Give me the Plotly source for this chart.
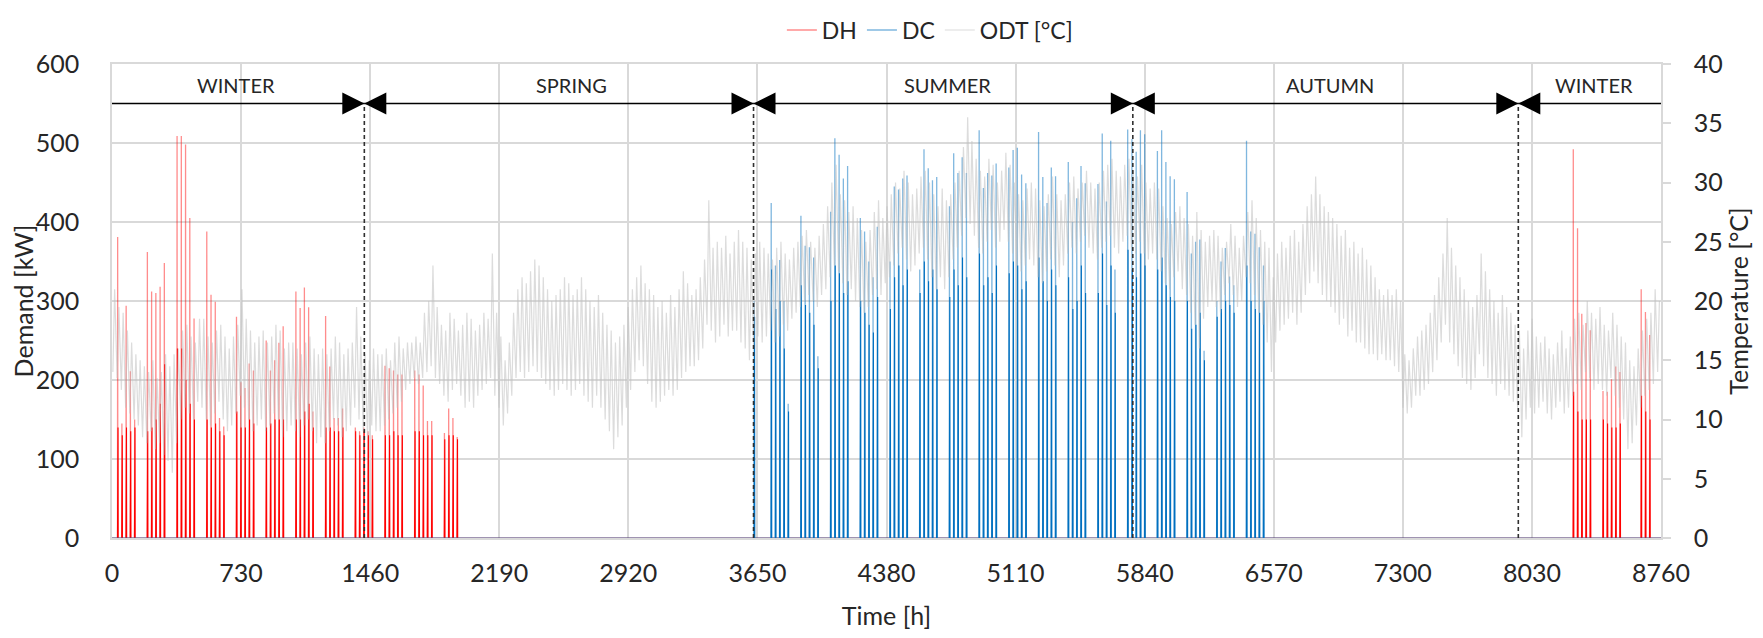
import plotly.graph_objects as go

# ---------------- data ----------------
# District heating (DH): working days (day index of the year), daily peak and daily base load [kW]
DH_DAYS = [1, 2, 3, 4, 5,
           8, 9, 10, 11, 12,
           15, 16, 17, 18, 19,
           22, 23, 24, 25, 26,
           29, 30, 31, 32, 33,
           36, 37, 38, 39, 40,
           43, 44, 45, 46, 47,
           50, 51, 52, 53, 54,
           57, 58, 59, 60, 61,
           64, 65, 66, 67, 68,
           71, 72, 73, 74, 75,
           78, 79, 80, 81,
           344, 345, 346, 347, 348,
           351, 352, 353, 354, 355,
           360, 361, 362]
DH_PEAK = [381, 145, 294, 211, 150,
           362, 312, 310, 318, 348,
           509, 509, 498, 405, 278,
           388, 308, 299, 152, 141,
           280, 197, 190, 221, 212,
           250, 212, 225, 247, 268,
           312, 291, 317, 292, 160,
           281, 217, 152, 152, 164,
           140, 135, 140, 135, 130,
           218, 215, 212, 207, 207,
           212, 207, 193, 148, 148,
           133, 164, 152, 128,
           492, 392, 284, 272, 263,
           186, 185, 201, 217, 210,
           315, 286, 257]
DH_BASE = [140, 130, 140, 135, 140,
           135, 140, 150, 170, 220,
           240, 240, 200, 170, 150,
           150, 140, 145, 135, 130,
           160, 140, 140, 150, 145,
           140, 145, 150, 150, 150,
           150, 150, 160, 170, 140,
           140, 140, 135, 135, 140,
           135, 130, 135, 130, 125,
           130, 130, 135, 130, 130,
           135, 135, 130, 130, 130,
           125, 130, 130, 125,
           185, 160, 150, 150, 150,
           150, 145, 140, 140, 145,
           180, 160, 150]

# District cooling (DC)
DC_DAYS = [151,
           155, 156, 157, 158, 159,
           162, 163, 164, 165, 166,
           169, 170, 171, 172, 173,
           176, 177, 178, 179, 180,
           183, 184, 185, 186, 187,
           190, 191, 192, 193, 194,
           197, 198, 199, 200, 201,
           204, 205, 206, 207, 208,
           211, 212, 213, 214, 215,
           218, 219, 220, 221, 222,
           225, 226, 227, 228, 229,
           232, 233, 234, 235, 236,
           239, 240, 241, 242, 243,
           246, 247, 248, 249, 250,
           253, 254, 255, 256, 257,
           260, 261, 262, 263, 264,
           267, 268, 269, 270, 271]
DC_PEAK = [300,
           424, 345, 352, 300, 170,
           408, 370, 368, 355, 230,
           413, 506, 485, 455, 471,
           405, 388, 350, 330, 394,
           350, 445, 441, 455, 459,
           340, 492, 468, 453, 457,
           420, 487, 462, 482, 462,
           516, 443, 462, 459, 474,
           469, 491, 494, 460, 449,
           514, 457, 424, 469, 458,
           476, 400, 430, 471, 449,
           448, 512, 426, 503, 340,
           517, 505, 489, 516, 511,
           490, 516, 476, 458, 454,
           438, 360, 375, 378, 237,
           300, 350, 367, 331, 320,
           503, 388, 385, 368, 345]
DC_BASE = [280,
           340, 290, 300, 240, 160,
           320, 295, 285, 270, 215,
           300, 345, 335, 310, 325,
           300, 285, 270, 260, 305,
           290, 330, 345, 320, 340,
           310, 350, 325, 340, 315,
           305, 340, 320, 355, 330,
           360, 320, 330, 310, 345,
           335, 350, 345, 315, 325,
           355, 325, 300, 340, 320,
           330, 290, 300, 345, 310,
           310, 360, 295, 345, 285,
           365, 340, 330, 360, 345,
           340, 355, 320, 305, 300,
           300, 265, 270, 285, 225,
           280, 290, 300, 295, 285,
           345, 300, 290, 285, 300]

# Outdoor temperature (ODT): daily maximum and minimum [°C], one row per week
ODT_MAX = [21.0, 19.5, 19.0, 17.5, 16.5, 15.5, 15.0,
           14.5, 14.0, 15.0, 13.5, 14.0, 15.5, 14.5,
           15.5, 16.0, 17.5, 18.0, 17.0, 16.5, 18.5,
           18.5, 17.0, 16.5, 17.5, 18.0, 17.0, 16.0,
           17.0, 18.0, 21.0, 18.5, 17.5, 16.5, 17.0,
           17.5, 16.5, 17.0, 18.0, 17.5, 16.0, 16.5,
           16.5, 16.0, 15.5, 16.5, 17.0, 16.0, 15.5,
           16.0, 15.5, 16.0, 17.0, 16.5, 15.5, 16.0,
           16.5, 19.5, 17.0, 15.5, 15.0, 16.0, 15.5,
           15.5, 16.0, 15.0, 16.5, 17.0, 16.0, 16.5,
           16.5, 17.0, 16.5, 19.0, 20.0, 23.0, 19.5,
           18.0, 17.5, 19.0, 18.5, 17.5, 18.0, 19.0,
           18.5, 17.5, 18.0, 19.0, 18.5, 24.0, 19.0,
           17.0, 15.0, 16.5, 19.0, 21.0, 22.0, 21.5,
           22.5, 23.5, 23.0, 22.0, 21.0, 20.0, 20.5,
           21.0, 22.0, 21.5, 20.5, 21.0, 22.0, 21.0,
           20.0, 19.5, 20.5, 19.0, 18.0, 17.5, 16.5,
           17.0, 18.0, 19.5, 21.0, 22.0, 23.0, 21.5,
           21.0, 20.5, 19.5, 20.0, 19.0, 20.5, 19.5,
           21.0, 22.5, 21.5, 20.5, 21.0, 22.0, 23.5,
           28.5, 24.5, 25.0, 24.5, 25.5, 24.0, 25.0,
           26.0, 25.0, 24.5, 23.5, 24.0, 25.0, 24.5,
           24.0, 23.5, 24.5, 25.0, 24.0, 23.5, 24.5,
           25.0, 25.5, 26.0, 25.0, 24.5, 25.5, 26.5,
           28.0, 30.0, 31.5, 29.0, 28.5, 27.5, 28.0,
           27.0, 26.0, 25.0, 26.0, 27.5, 28.5, 27.0,
           28.0, 29.0, 30.0, 29.5, 31.0, 30.0, 29.0,
           29.5, 30.5, 31.0, 30.0, 29.0, 28.0, 29.5,
           28.5, 29.0, 30.0, 31.0, 33.0, 35.5, 33.5,
           32.0, 31.0, 30.5, 32.0, 31.5, 30.0, 31.0,
           32.5, 31.5, 30.0, 29.0, 28.5, 29.5, 30.0,
           29.5, 28.5, 28.0, 29.0, 30.5, 29.0, 28.5,
           29.0, 30.0, 30.5, 29.5, 30.0, 31.0, 30.0,
           29.5, 30.0, 31.0, 31.5, 32.0, 31.0, 30.5,
           31.5, 32.0, 31.0, 30.5, 31.5, 30.0, 29.5,
           30.0, 29.5, 28.0, 27.0, 26.5, 27.5, 28.0,
           27.0, 26.5, 25.5, 27.5, 26.0, 25.0, 25.5,
           26.0, 25.5, 24.5, 25.0, 26.5, 25.5, 24.5,
           25.5, 27.5, 28.5, 27.0, 26.0, 25.0, 24.5,
           22.0, 24.0, 25.0, 24.5, 25.5, 26.0, 25.0,
           26.5, 28.0, 29.0, 30.5, 29.0, 28.0, 27.5,
           27.0, 26.5, 25.5, 26.0, 24.5, 25.0, 24.0,
           24.5, 23.5, 23.0, 22.0, 21.0, 20.5, 21.0,
           20.5, 21.0, 20.0, 15.5, 15.0, 16.0, 17.0,
           17.5, 18.0, 19.0, 20.5, 22.0, 24.0, 27.0,
           24.5, 23.0, 22.0, 21.0, 20.0, 19.5, 20.5,
           24.0, 22.5, 21.0, 20.0, 19.0, 20.5, 19.5,
           19.0, 18.0, 17.5, 16.0, 17.5, 18.5, 17.0,
           16.5, 17.0, 16.0, 15.5, 16.5, 17.5, 16.0,
           17.0, 18.5, 19.0, 18.0, 20.0, 19.0, 18.5,
           19.5, 18.0, 17.5, 19.0, 18.0, 17.0, 16.5,
           15.0, 14.5, 16.0, 17.5, 18.5, 19.0, 21.0,
           20.0]
ODT_MIN = [14.0, 13.5, 12.5, 11.0, 10.5, 10.0, 9.5,
           8.5, 8.0, 9.0, 7.5, 8.0, 7.0, 6.5,
           5.5, 8.0, 10.0, 11.0, 10.5, 10.0, 11.5,
           11.0, 10.0, 9.5, 10.5, 11.5, 10.0, 9.0,
           9.5, 10.5, 12.0, 11.0, 10.0, 9.0, 9.5,
           10.0, 9.0, 9.5, 10.5, 10.0, 8.5, 9.0,
           9.5, 9.0, 8.5, 9.5, 10.0, 9.0, 8.0,
           8.5, 8.0, 9.0, 10.0, 9.5, 8.5, 9.0,
           9.5, 11.0, 10.0, 9.0, 8.5, 9.5, 9.0,
           9.0, 9.5, 10.0, 10.5, 11.0, 11.5, 12.5,
           13.0, 13.5, 13.0, 13.5, 14.0, 14.5, 13.5,
           13.0, 12.0, 11.5, 12.5, 13.0, 12.0, 11.0,
           11.5, 11.0, 12.0, 12.5, 13.0, 13.5, 12.0,
           11.0, 9.5, 10.5, 12.0, 13.5, 14.0, 13.5,
           14.0, 14.5, 14.0, 13.5, 13.0, 12.5, 12.0,
           12.5, 13.0, 12.5, 12.0, 12.5, 13.0, 12.0,
           11.5, 11.0, 12.0, 11.0, 10.0, 9.0, 7.5,
           8.5, 9.5, 11.0, 12.5, 14.0, 15.0, 14.5,
           13.0, 11.5, 11.0, 11.5, 12.0, 12.5, 12.0,
           12.5, 13.5, 14.0, 14.5, 14.5, 15.0, 16.0,
           18.0, 17.5, 16.5, 17.0, 18.0, 17.0, 17.5,
           17.5, 16.5, 16.0, 15.0, 16.0, 17.0, 16.5,
           17.0, 17.5, 16.5, 17.0, 18.0, 17.5, 18.5,
           19.0, 19.5, 20.0, 20.5, 20.0, 19.5, 20.5,
           21.0, 22.0, 23.0, 22.5, 21.5, 20.5, 21.0,
           20.0, 19.5, 19.0, 19.5, 20.5, 21.0, 20.5,
           21.5, 22.0, 23.0, 24.0, 24.5, 23.5, 22.5,
           23.0, 24.0, 24.5, 23.5, 22.0, 21.0, 22.0,
           21.0, 22.0, 23.5, 24.5, 25.5, 27.0, 26.5,
           25.5, 24.5, 24.0, 25.0, 26.0, 24.5, 25.0,
           26.0, 25.0, 24.0, 23.0, 22.5, 23.0, 23.5,
           23.0, 22.0, 21.5, 22.5, 23.5, 23.0, 22.0,
           23.0, 24.0, 24.5, 24.0, 25.0, 25.5, 24.5,
           24.0, 23.5, 24.5, 25.0, 25.5, 24.5, 24.0,
           25.0, 25.5, 24.5, 24.0, 25.0, 24.0, 23.5,
           24.0, 23.5, 22.5, 21.5, 21.0, 22.0, 22.5,
           21.0, 20.5, 19.0, 18.0, 16.0, 18.5, 19.5,
           20.0, 19.5, 19.0, 20.5, 21.5, 20.5, 19.5,
           20.0, 22.0, 21.5, 20.5, 19.0, 18.0, 16.5,
           14.0, 16.5, 17.5, 18.0, 18.5, 19.0, 18.0,
           19.0, 20.5, 21.5, 22.5, 21.5, 20.5, 20.0,
           19.5, 19.0, 18.0, 18.5, 17.0, 17.5, 16.5,
           16.5, 16.0, 15.5, 15.5, 15.0, 15.5, 15.0,
           15.0, 14.5, 14.0, 11.0, 10.5, 11.0, 12.0,
           12.0, 12.5, 13.0, 14.0, 15.0, 16.5, 18.0,
           16.5, 15.5, 14.5, 13.5, 13.0, 12.5, 13.5,
           15.5, 14.5, 13.5, 13.0, 12.0, 13.0, 12.5,
           12.0, 11.5, 11.0, 8.5, 10.0, 11.0, 10.5,
           11.0, 11.5, 10.5, 10.0, 11.0, 11.5, 10.5,
           11.0, 12.0, 13.0, 12.5, 14.0, 13.5, 12.5,
           13.0, 12.5, 12.0, 13.5, 12.0, 11.0, 10.0,
           7.5, 8.0, 9.5, 11.0, 12.0, 12.5, 13.0,
           14.0]

# Season boundaries [h] and season labels
SEASON_BOUNDS = [1427, 3628, 5773, 7953]
SEASON_NAMES = ["WINTER", "SPRING", "SUMMER", "AUTUMN", "WINTER"]
SEASON_LABEL_X = [704, 2598, 4726, 6888, 8380]
X_TICKS = [0, 730, 1460, 2190, 2920, 3650, 4380, 5110, 5840, 6570, 7300, 8030, 8760]

YEAR_HOURS = 8760
SEASON_LINE_KW = 550
SEASON_TEXT_KW = 573


# ---------------- build hourly-style traces from the daily values ----------------
def spike_series(days, peaks):
    xs, ys = [0], [0]
    for d, p in zip(days, peaks):
        h = d * 24
        xs += [h + 7, h + 8, h + 9]
        ys += [0, p, 0]
    xs.append(YEAR_HOURS)
    ys.append(0)
    return xs, ys


def base_series(days, bases):
    xs, ys = [], []
    for d, b in zip(days, bases):
        h = d * 24
        xs += [h + 7, h + 8, h + 10, h + 11, None]
        ys += [0, b, b, 0, None]
    return xs, ys


def odt_series(tmin, tmax):
    xs, ys = [], []
    for d, (lo, hi) in enumerate(zip(tmin, tmax)):
        xs += [d * 24 + 5, d * 24 + 15]
        ys += [lo, hi]
    return xs, ys


RED_LIGHT = "rgba(255,0,0,0.45)"
RED = "rgb(255,0,0)"
BLUE_LIGHT = "rgba(0,112,192,0.5)"
BLUE = "rgb(0,112,192)"
GREY = "rgba(191,191,191,0.55)"
GRID = "#d9d9d9"
TXT = "#262626"
FONT = "Lato"

fig = go.Figure()

bx, by = base_series(DH_DAYS, DH_BASE)
fig.add_trace(go.Scatter(x=bx, y=by, mode="lines", line=dict(color=RED, width=1.1),
                         legendgroup="DH", showlegend=False, hoverinfo="skip", connectgaps=False))
sx, sy = spike_series(DH_DAYS, DH_PEAK)
fig.add_trace(go.Scatter(x=sx, y=sy, mode="lines", name="DH", line=dict(color=RED_LIGHT, width=1.3),
                         legendgroup="DH"))

bx, by = base_series(DC_DAYS, DC_BASE)
fig.add_trace(go.Scatter(x=bx, y=by, mode="lines", line=dict(color=BLUE, width=1.1),
                         legendgroup="DC", showlegend=False, hoverinfo="skip", connectgaps=False))
sx, sy = spike_series(DC_DAYS, DC_PEAK)
fig.add_trace(go.Scatter(x=sx, y=sy, mode="lines", name="DC", line=dict(color=BLUE_LIGHT, width=1.3),
                         legendgroup="DC"))

ox, oy = odt_series(ODT_MIN, ODT_MAX)
fig.add_trace(go.Scatter(x=ox, y=oy, mode="lines", name="ODT [°C]", yaxis="y2",
                         line=dict(color=GREY, width=1.2)))

# ---------------- season markers ----------------
shapes = [dict(type="line", xref="x", yref="y", x0=0, x1=YEAR_HOURS,
               y0=SEASON_LINE_KW, y1=SEASON_LINE_KW, line=dict(color="#000000", width=1.5))]
for b in SEASON_BOUNDS:
    shapes.append(dict(type="line", xref="x", yref="y", x0=b, x1=b, y0=0, y1=SEASON_LINE_KW,
                       line=dict(color="#303030", width=1.6, dash="4px,3px")))
    shapes.append(dict(type="path", xref="x", yref="y", xsizemode="pixel", ysizemode="pixel",
                       xanchor=b, yanchor=SEASON_LINE_KW,
                       path="M -22,-11 L 0,0 L -22,11 Z", fillcolor="#000000", line=dict(width=0)))
    shapes.append(dict(type="path", xref="x", yref="y", xsizemode="pixel", ysizemode="pixel",
                       xanchor=b, yanchor=SEASON_LINE_KW,
                       path="M 22,-11 L 0,0 L 22,11 Z", fillcolor="#000000", line=dict(width=0)))

annotations = [dict(x=xp, y=SEASON_TEXT_KW, xref="x", yref="y", text=name, showarrow=False,
                    font=dict(family=FONT, size=20, color=TXT))
               for xp, name in zip(SEASON_LABEL_X, SEASON_NAMES)]

# the page body adds an 8 px offset, so the figure is sized to fit inside the window
fig.update_layout(
    width=1747, height=622,
    margin=dict(l=103.5, r=94, t=56, b=92, autoexpand=False),
    paper_bgcolor="white", plot_bgcolor="white",
    font=dict(family=FONT, size=25, color=TXT),
    shapes=shapes, annotations=annotations,
    showlegend=True,
    legend=dict(orientation="h", x=0.528, xanchor="center", y=1.117, yanchor="top",
                font=dict(family=FONT, size=23, color=TXT), itemwidth=30,
                bgcolor="rgba(0,0,0,0)", traceorder="normal"),
    xaxis=dict(range=[0, YEAR_HOURS], tickvals=X_TICKS, showgrid=True, gridcolor=GRID, gridwidth=1.5,
               showline=True, linecolor=GRID, linewidth=1.5, mirror=True, zeroline=False,
               ticks="", ticklabelstandoff=12,
               title=dict(text="Time [h]", font=dict(family=FONT, size=25, color=TXT), standoff=22)),
    yaxis=dict(range=[0, 600], dtick=100, showgrid=True, gridcolor=GRID, gridwidth=1.5,
               showline=True, linecolor=GRID, linewidth=1.5, zeroline=False, ticks="",
               ticklabelstandoff=26,
               title=dict(text="Demand [kW]", font=dict(family=FONT, size=25, color=TXT), standoff=12)),
    yaxis2=dict(range=[0, 40], dtick=5, overlaying="y", side="right", showgrid=False,
                showline=True, linecolor=GRID, linewidth=1.5, zeroline=False,
                ticks="outside", ticklen=8, tickcolor=GRID, tickwidth=1.5, ticklabelstandoff=18,
                title=dict(text="Temperature [°C]", font=dict(family=FONT, size=25, color=TXT), standoff=4)),
)

fig.write_html("out.html")
